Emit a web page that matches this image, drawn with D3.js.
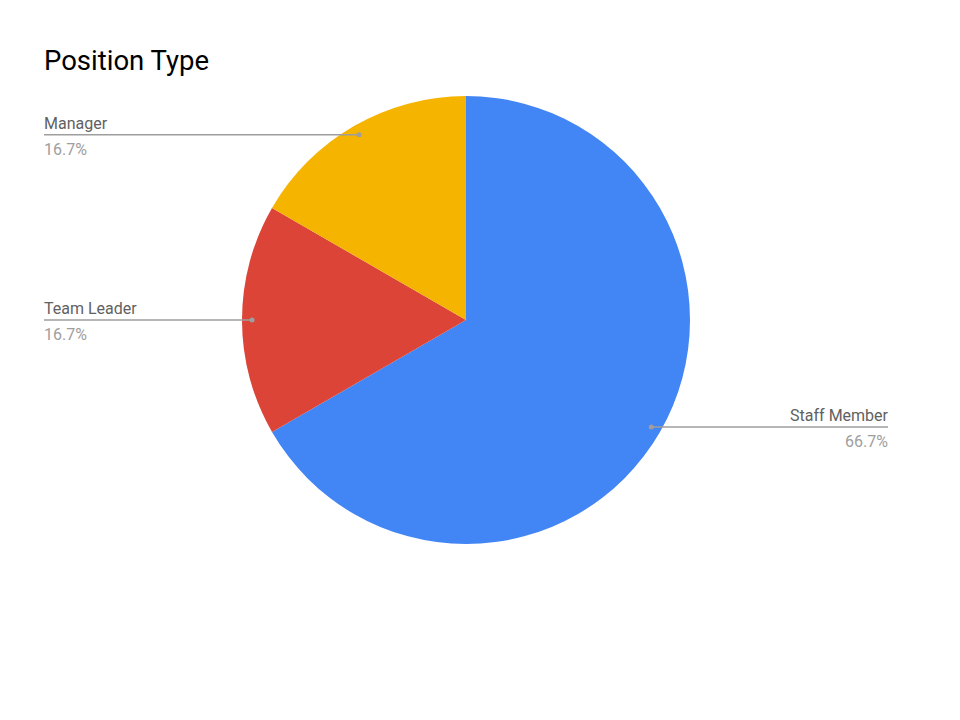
<!DOCTYPE html>
<html>
<head>
<meta charset="utf-8">
<script src="https://cdn.jsdelivr.net/npm/d3@7"></script>
<style>
  html, body { margin: 0; padding: 0; background: #fff; }
  svg { display: block; }
</style>
</head>
<body>
<svg id="chart" width="960" height="720"></svg>
<script>
const title = "Position Type";
const categories = ["Staff Member", "Team Leader", "Manager"];
const values = [4, 1, 1];
const colors = ["#4285f4", "#db4437", "#f4b400"];
const labelSide = ["right", "left", "left"];

const W = 960, H = 720;
const cx = 466, cy = 320, R = 224;
const dotR = R * 0.955;
const leftX = 44, rightX = 888;

const svg = d3.select("#chart");
svg.append("rect").attr("width", W).attr("height", H).attr("fill", "#fff");

svg.append("text")
  .attr("x", 44).attr("y", 70)
  .attr("font-family", "Roboto, sans-serif")
  .attr("font-size", 27.5)
  .attr("fill", "#000")
  .text(title);

const data = categories.map((c, i) => ({ name: c, value: values[i], color: colors[i], side: labelSide[i] }));
const total = d3.sum(values);
const pie = d3.pie().value(d => d.value).sort(null);
const arcs = pie(data);
const arc = d3.arc().innerRadius(0).outerRadius(R);

const g = svg.append("g").attr("transform", `translate(${cx},${cy})`);
g.selectAll("path").data(arcs).join("path")
  .attr("d", arc)
  .attr("fill", d => d.data.color);

const fmt = d3.format(".1%");
const labels = svg.append("g");
arcs.forEach(a => {
  const mid = (a.startAngle + a.endAngle) / 2;
  const px = cx + dotR * Math.sin(mid);
  const py = cy - dotR * Math.cos(mid);
  const left = a.data.side === "left";
  const x0 = left ? leftX : rightX;
  labels.append("line")
    .attr("x1", x0).attr("y1", py).attr("x2", px).attr("y2", py)
    .attr("stroke", "#9e9e9e").attr("stroke-width", 1.5);
  labels.append("circle")
    .attr("cx", px).attr("cy", py).attr("r", 2.5)
    .attr("fill", "#9e9e9e");
  labels.append("text")
    .attr("x", x0).attr("y", py - 6)
    .attr("text-anchor", left ? "start" : "end")
    .attr("font-family", "Roboto, sans-serif")
    .attr("font-size", 16)
    .attr("fill", "#616161")
    .text(a.data.name);
  labels.append("text")
    .attr("x", x0).attr("y", py + 20)
    .attr("text-anchor", left ? "start" : "end")
    .attr("font-family", "Roboto, sans-serif")
    .attr("font-size", 16)
    .attr("fill", "#9e9e9e")
    .text(fmt(a.data.value / total));
});
</script>
</body>
</html>
